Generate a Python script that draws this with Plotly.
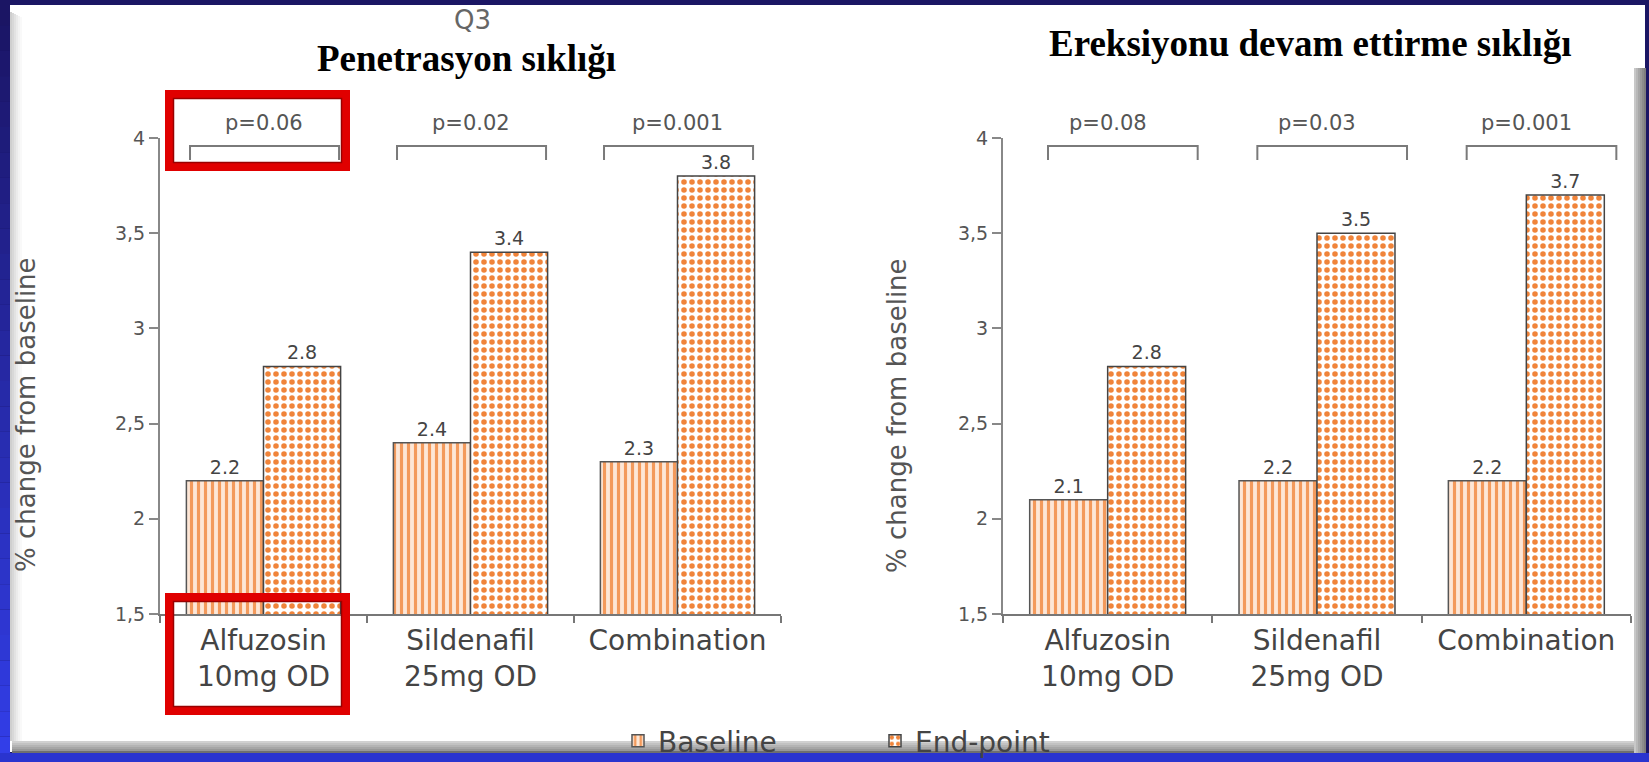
import plotly.graph_objects as go

# ---------------- data ----------------
categories = ["Alfuzosin<br>10mg OD", "Sildenafil<br>25mg OD", "Combination"]
series_names = ["Baseline", "End-point"]
pen_baseline = [2.2, 2.4, 2.3]
pen_endpoint = [2.8, 3.4, 3.8]
pen_pvalues = ["p=0.06", "p=0.02", "p=0.001"]
ere_baseline = [2.1, 2.2, 2.2]
ere_endpoint = [2.8, 3.5, 3.7]
ere_pvalues = ["p=0.08", "p=0.03", "p=0.001"]
ytick_vals = [1.5, 2, 2.5, 3, 3.5, 4]
ytick_text = ["1,5", "2", "2,5", "3", "3,5", "4"]
chart_titles = ["Penetrasyon sıklığı", "Ereksiyonu devam ettirme sıklığı"]
y_title = "% change from baseline"
top_label = "Q3"

# ---------------- geometry / style ----------------
W, H = 1649, 762
YMIN, YMAX = 1.5, 4.0
SANS = "DejaVu Sans"
SERIF = "Liberation Serif"


def px(x):
    return x / W


def py(y):
    return 1 - y / H


def yfrac(v):
    return (v - YMIN) / (YMAX - YMIN)


fig = go.Figure()

panels = [
    dict(xa="x", ya="y", base=pen_baseline, end=pen_endpoint, pv=pen_pvalues, title=chart_titles[0],
         br=(-0.355, 0.365), title_xy=(466, 58), ytitle_x=26, legend=True),
    dict(xa="x2", ya="y2", base=ere_baseline, end=ere_endpoint, pv=ere_pvalues, title=chart_titles[1],
         br=(-0.285, 0.43), title_xy=(1310, 44), ytitle_x=897, legend=False),
]

base_style = dict(color="#fbd3b5", pattern=dict(shape="|", fgcolor="#f39a5c", bgcolor="#fde7d7",
                                                size=7, solidity=0.45, fillmode="replace"),
                  line=dict(color="#555555", width=1.5))
end_style = dict(color="#ffffff", pattern=dict(shape=".", fgcolor="#f0843a", bgcolor="#ffffff",
                                               size=8, solidity=0.38, fillmode="replace"),
                 line=dict(color="#444444", width=1.5))

for p in panels:
    for name, vals, style in ((series_names[0], p["base"], base_style),
                              (series_names[1], p["end"], end_style)):
        fig.add_trace(go.Bar(
            x=categories, y=vals, name=name, marker=style,
            text=[f"{v:.1f}" for v in vals], textposition="outside",
            textfont=dict(family=SANS, size=19, color="#444444"),
            cliponaxis=False, xaxis=p["xa"], yaxis=p["ya"],
            showlegend=p["legend"], legendgroup=name,
        ))

# frame shapes (slide background)
shapes = []
shapes.append(dict(type="rect", xref="paper", yref="paper", x0=px(10), x1=px(1645), y0=py(752), y1=py(5),
                   fillcolor="white", line=dict(width=0), layer="below"))
n = 30
c0 = (27, 21, 100)
c1 = (50, 62, 232)
for k in range(n):
    t = k / (n - 1)
    col = "rgb(%d,%d,%d)" % tuple(int(a + (b - a) * t) for a, b in zip(c0, c1))
    shapes.append(dict(type="rect", xref="paper", yref="paper", x0=0, x1=px(10),
                       y0=py(H * (k + 1) / n), y1=py(H * k / n),
                       fillcolor=col, line=dict(width=0), layer="below"))
bevel = ["#cfcfcf", "#d8d8d8", "#e2e2e2", "#ebebeb", "#f3f3f3", "#f9f9f9"]
for k, col in enumerate(bevel):
    shapes.append(dict(type="rect", xref="paper", yref="paper", x0=px(10 + 2 * k), x1=px(12 + 2 * k),
                       y0=py(741), y1=py(12 + k), fillcolor=col, line=dict(width=0), layer="below"))
bot = ["#d0d0d0", "#c2c2c2", "#b4b4b4", "#a6a6a6", "#989898", "#6f6f6f"]
for k, col in enumerate(bot):
    shapes.append(dict(type="rect", xref="paper", yref="paper", x0=px(12), x1=px(1645),
                       y0=py(741 + 2 * (k + 1)), y1=py(741 + 2 * k), fillcolor=col, line=dict(width=0),
                       layer="below"))
rgt = ["#c8c8c8", "#b8b8b8", "#a8a8a8", "#9a9a9a", "#8c8c8c", "#7e7e7e"]
for k, col in enumerate(rgt):
    shapes.append(dict(type="rect", xref="paper", yref="paper", x0=px(1634 + 2 * k), x1=px(1636 + 2 * k),
                       y0=py(753), y1=py(68), fillcolor=col, line=dict(width=0), layer="below"))
shapes.append(dict(type="rect", xref="paper", yref="paper", x0=0, x1=1, y0=0, y1=py(753),
                   fillcolor="#2a34cf", line=dict(width=0), layer="below"))

# brackets above the bar pairs
for p in panels:
    xdom = p["xa"] + " domain"
    ydom = p["ya"] + " domain"
    ncat = len(categories)
    yb = yfrac(3.884)
    yt = yfrac(3.958)
    for i in range(ncat):
        xl = (i + 0.5 + p["br"][0]) / ncat
        xr = (i + 0.5 + p["br"][1]) / ncat
        shapes.append(dict(type="path", xref=xdom, yref=ydom,
                           path=f"M {xl},{yb} L {xl},{yt} L {xr},{yt} L {xr},{yb}",
                           line=dict(color="#7a7a7a", width=2), layer="above"))

# red highlight boxes
for (x0, y0, x1, y1) in [(165, 90, 350, 171), (165, 593, 350, 715)]:
    shapes.append(dict(type="rect", xref="paper", yref="paper",
                       x0=px(x0 + 4.5), x1=px(x1 - 4.5), y0=py(y1 - 4.5), y1=py(y0 + 4.5),
                       line=dict(color="#e00000", width=9), layer="above"))
    shapes.append(dict(type="rect", xref="paper", yref="paper",
                       x0=px(x0 + 8.5), x1=px(x1 - 8.5), y0=py(y1 - 8.5), y1=py(y0 + 8.5),
                       line=dict(color="#9a0000", width=1.5), layer="above"))

annotations = []
for p in panels:
    ncat = len(categories)
    for i, t in enumerate(p["pv"]):
        annotations.append(dict(x=(i + 0.5) / ncat, y=yfrac(4.08), xref=p["xa"] + " domain",
                                yref=p["ya"] + " domain", text=t, showarrow=False,
                                xanchor="center", yanchor="middle",
                                font=dict(family=SANS, size=21, color="#555555")))
    tx, ty = p["title_xy"]
    annotations.append(dict(x=px(tx), y=py(ty), xref="paper", yref="paper", text=p["title"],
                            showarrow=False, xanchor="center", yanchor="middle",
                            font=dict(family=SERIF, size=37, color="black", weight="bold")))
    annotations.append(dict(x=px(p["ytitle_x"]), y=py(415), xref="paper", yref="paper", text=y_title,
                            textangle=-90, showarrow=False, xanchor="center", yanchor="middle",
                            font=dict(family=SANS, size=26, color="#555555")))

annotations.append(dict(x=px(473), y=py(20), xref="paper", yref="paper", text=top_label, showarrow=False,
                        xanchor="center", yanchor="middle",
                        font=dict(family=SANS, size=26, color="#666666")))

axis_common_x = dict(type="category", showline=True, linecolor="#777777", linewidth=2,
                     ticks="outside", tickson="boundaries", ticklen=7, tickcolor="#777777", tickwidth=2,
                     tickfont=dict(family=SANS, size=28, color="#444444"), showgrid=False, zeroline=False,
                     fixedrange=True)
axis_common_y = dict(range=[YMIN, YMAX], tickvals=ytick_vals, ticktext=ytick_text,
                     showline=True, linecolor="#888888", linewidth=2,
                     ticks="outside", ticklen=9, tickcolor="#888888", tickwidth=2,
                     tickfont=dict(family=SANS, size=19, color="#555555"), showgrid=False, zeroline=False)

fig.update_layout(
    width=W, height=H, margin=dict(l=0, r=0, t=0, b=0, autoexpand=False),
    paper_bgcolor="#1b1664", plot_bgcolor="rgba(0,0,0,0)",
    barmode="group", bargap=0.255, bargroupgap=0,
    xaxis=dict(domain=[px(160), px(781)], anchor="y", automargin=False, **axis_common_x),
    yaxis=dict(domain=[py(614), py(138)], anchor="x", automargin=False, **axis_common_y),
    xaxis2=dict(domain=[px(1003), px(1631)], anchor="y2", automargin=False, **axis_common_x),
    yaxis2=dict(domain=[py(614), py(138)], anchor="x2", automargin=False, **axis_common_y),
    shapes=shapes, annotations=annotations,
    legend=dict(orientation="h", x=px(618), y=py(741), xanchor="left", yanchor="middle",
                font=dict(family=SANS, size=28, color="#444444"), bgcolor="rgba(0,0,0,0)",
                entrywidth=212, entrywidthmode="pixels", traceorder="normal"),
    showlegend=True,
)

fig.write_html("out.html", config={"displayModeBar": False},
               post_script="document.body.style.margin='0';document.body.style.overflow='hidden';")
